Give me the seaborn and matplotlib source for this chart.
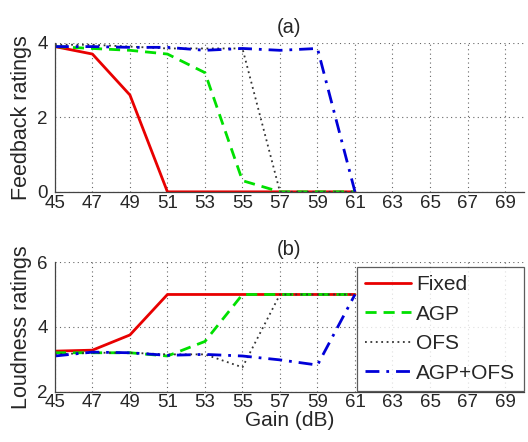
import matplotlib
matplotlib.use("Agg")
import matplotlib.pyplot as plt
import seaborn as sns
import pandas as pd

# gain levels (dB)
gain = [45, 47, 49, 51, 53, 55, 57, 59, 61]

# (a) feedback ratings
fb_fixed = [3.9, 3.7, 2.6, 0.0, 0.0, 0.0, 0.0, 0.0, 0.0]
fb_agp = [3.9, 3.85, 3.8, 3.7, 3.2, 0.3, 0.0, 0.0, 0.0]
fb_ofs = [3.95, 3.95, 3.9, 3.85, 3.85, 3.85, 0.0, 0.0, 0.0]
fb_agp_ofs = [3.9, 3.9, 3.88, 3.88, 3.8, 3.85, 3.8, 3.85, 0.0]

# (b) loudness ratings
ld_fixed = [3.25, 3.28, 3.75, 5.0, 5.0, 5.0, 5.0, 5.0, 5.0]
ld_agp = [3.2, 3.2, 3.2, 3.1, 3.55, 5.0, 5.0, 5.0, 5.0]
ld_ofs = [3.15, 3.2, 3.2, 3.15, 3.15, 2.75, 5.0, 5.0, 5.0]
ld_agp_ofs = [3.1, 3.22, 3.2, 3.12, 3.15, 3.1, 2.98, 2.82, 5.0]

labels = ["Fixed", "AGP", "OFS", "AGP+OFS"]
xticks = list(range(45, 70, 2))

sns.set_style("white")
plt.rcParams['font.family'] = ['Liberation Sans', 'DejaVu Sans']

styles = {
    "Fixed": dict(color="#e80000", linestyle="-", linewidth=2.0),
    "AGP": dict(color="#00e000", linestyle=(0, (4, 2.5)), linewidth=2.0),
    "OFS": dict(color="#333333", linestyle=(0, (1, 2)), linewidth=1.3),
    "AGP+OFS": dict(color="#0000d8", linestyle=(0, (5, 2.5, 1, 2.5)), linewidth=2.0),
}

fig = plt.figure(figsize=(5.28, 4.42), dpi=100)
ax1 = fig.add_axes([0.104, 0.566, 0.888, 0.337])
ax2 = fig.add_axes([0.104, 0.114, 0.888, 0.293])

df_fb = pd.DataFrame({"Gain": gain, "Fixed": fb_fixed, "AGP": fb_agp,
                      "OFS": fb_ofs, "AGP+OFS": fb_agp_ofs})
df_ld = pd.DataFrame({"Gain": gain, "Fixed": ld_fixed, "AGP": ld_agp,
                      "OFS": ld_ofs, "AGP+OFS": ld_agp_ofs})

for name in labels:
    sns.lineplot(x="Gain", y=name, data=df_fb, ax=ax1, label=name, legend=False, **styles[name])
    sns.lineplot(x="Gain", y=name, data=df_ld, ax=ax2, label=name, legend=False, **styles[name])

for ax, ylim, yt in [(ax1, (0, 4), [0, 2, 4]), (ax2, (2, 6), [2, 4, 6])]:
    ax.set_xlim(45, 70)
    ax.set_ylim(*ylim)
    ax.set_xticks(xticks)
    ax.set_yticks(yt)
    ax.grid(True, linestyle=(0, (1, 3)), color="#666666", linewidth=0.8)
    ax.spines["top"].set_visible(False)
    ax.spines["right"].set_visible(False)
    for s in ["left", "bottom"]:
        ax.spines[s].set_color("#444444")
        ax.spines[s].set_linewidth(0.9)
    ax.tick_params(axis="both", labelsize=13.5, direction="in", length=3)
    ax.tick_params(axis="x", pad=2)
    ax.tick_params(axis="y", pad=5)
    ax.set_xlabel("")

ax1.set_ylabel("Feedback ratings", fontsize=15.5, labelpad=4)
ax2.set_ylabel("Loudness ratings", fontsize=15.5, labelpad=4)
ax2.set_xlabel("Gain (dB)", fontsize=15, labelpad=0)
ax1.set_title("(a)", fontsize=14.5, pad=7)
ax2.set_title("(b)", fontsize=14.5, pad=5)

handles, _ = ax2.get_legend_handles_labels()
leg = fig.legend(handles, labels, loc="upper left", bbox_to_anchor=(357 / 528, 1 - 267 / 442),
                 fontsize=15, frameon=True, fancybox=False, handlelength=2.2,
                 borderpad=0.4, labelspacing=0.5, handletextpad=0.25, borderaxespad=0)
leg.get_frame().set_edgecolor("#333333")
leg.get_frame().set_linewidth(0.9)

fig.savefig("out.png", dpi=100)
